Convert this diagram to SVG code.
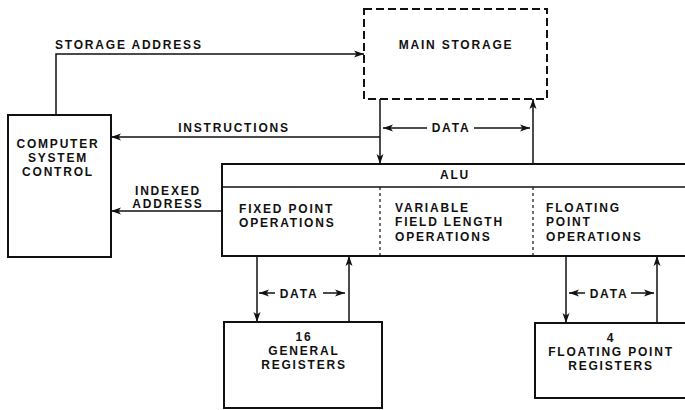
<svg xmlns="http://www.w3.org/2000/svg" width="685" height="410" viewBox="0 0 685 410">
<style>
text{font-family:"Liberation Sans",Arial,sans-serif;font-weight:bold;font-size:12px;letter-spacing:1.8px;fill:#111}
.c{text-anchor:middle}
.box{fill:none;stroke:#111;stroke-width:2}
.ln{fill:none;stroke:#111;stroke-width:1.5}
.dash{fill:none;stroke:#111;stroke-width:1.2;stroke-dasharray:3 3}
</style>
<defs>
<marker id="ah" markerUnits="userSpaceOnUse" markerWidth="10" markerHeight="8" viewBox="0 0 10 8" refX="10" refY="4" orient="auto">
<path d="M0,0.5 L10,4 L0,7.5 L2.5,4 z" fill="#111"/>
</marker>
</defs>
<rect width="685" height="410" fill="#fff"/>
<g id="main-storage">
<rect x="364" y="9" width="183" height="90" fill="none" stroke="#111" stroke-width="2" stroke-dasharray="8 4"/>
<text class="c" x="456" y="49">MAIN STORAGE</text>
</g>
<g id="computer-system-control">
<rect class="box" x="8" y="115" width="103" height="142"/>
<text class="c" x="58" y="148">COMPUTER</text>
<text class="c" x="58" y="162">SYSTEM</text>
<text class="c" x="58" y="176">CONTROL</text>
</g>
<g id="alu">
<path class="box" d="M692,164 H222 V256 H692"/>
<path class="ln" d="M222,187 H685"/>
<path class="dash" d="M380,187 V256 M533,187 V256"/>
<text class="c" x="455" y="179">ALU</text>
<text x="239" y="213">FIXED POINT</text>
<text x="239" y="227">OPERATIONS</text>
<text x="395" y="212">VARIABLE</text>
<text x="395" y="226">FIELD LENGTH</text>
<text x="395" y="241">OPERATIONS</text>
<text x="546" y="212">FLOATING</text>
<text x="546" y="226">POINT</text>
<text x="546" y="241">OPERATIONS</text>
</g>
<g id="general-registers">
<rect class="box" x="224" y="322" width="158" height="86"/>
<text class="c" x="304" y="341">16</text>
<text class="c" x="304" y="355">GENERAL</text>
<text class="c" x="304" y="369">REGISTERS</text>
</g>
<g id="floating-point-registers">
<path class="box" d="M692,323 H535 V398 H692"/>
<text class="c" x="611" y="342">4</text>
<text class="c" x="611" y="356">FLOATING POINT</text>
<text class="c" x="611" y="370">REGISTERS</text>
</g>
<g id="connectors">
<path class="ln" d="M56,115 V54 H364" marker-end="url(#ah)"/>
<text x="55" y="49">STORAGE ADDRESS</text>
<path class="ln" d="M380,99 V164" marker-end="url(#ah)"/>
<path class="ln" d="M380,137 H111" marker-end="url(#ah)"/>
<text class="c" x="234" y="132">INSTRUCTIONS</text>
<path class="ln" d="M533,164 V99" marker-end="url(#ah)"/>
<path class="ln" d="M427,128 H383" marker-end="url(#ah)"/>
<path class="ln" d="M474,128 H530" marker-end="url(#ah)"/>
<text class="c" x="451" y="132">DATA</text>
<path class="ln" d="M222,211 H111" marker-end="url(#ah)"/>
<text class="c" x="168" y="195">INDEXED</text>
<text class="c" x="168" y="208">ADDRESS</text>
<path class="ln" d="M257,256 V322" marker-end="url(#ah)"/>
<path class="ln" d="M349,322 V256" marker-end="url(#ah)"/>
<path class="ln" d="M275,293 H259" marker-end="url(#ah)"/>
<path class="ln" d="M323,293 H345" marker-end="url(#ah)"/>
<text class="c" x="299" y="298">DATA</text>
<path class="ln" d="M566,256 V323" marker-end="url(#ah)"/>
<path class="ln" d="M657,323 V256" marker-end="url(#ah)"/>
<path class="ln" d="M585,293 H569" marker-end="url(#ah)"/>
<path class="ln" d="M631,293 H654" marker-end="url(#ah)"/>
<text class="c" x="609" y="298">DATA</text>
</g>
</svg>
